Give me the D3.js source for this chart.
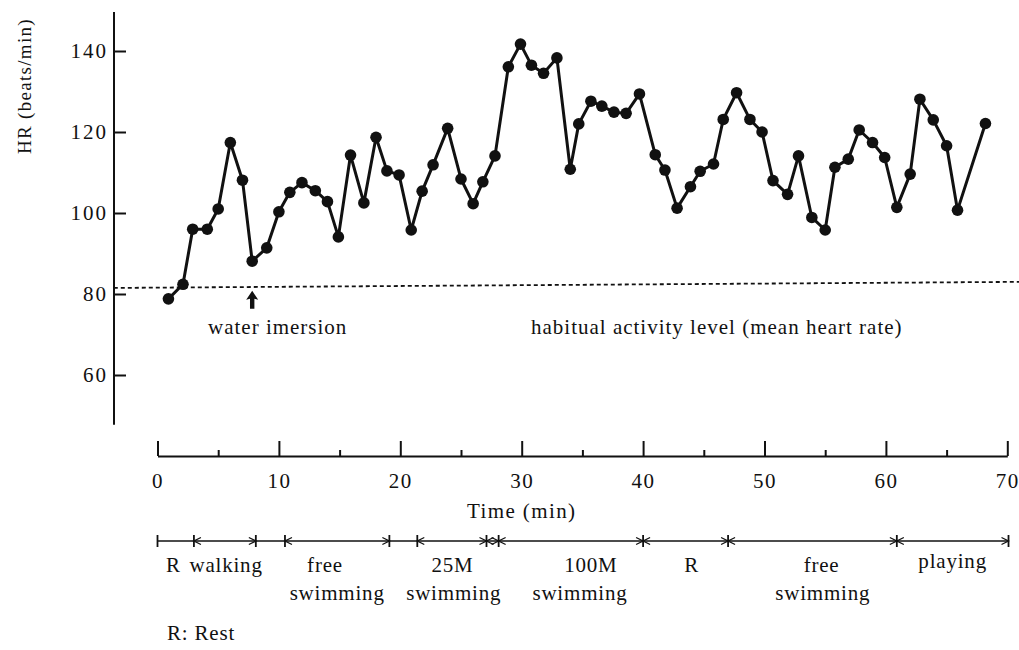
<!DOCTYPE html>
<html><head><meta charset="utf-8">
<script src="https://cdn.jsdelivr.net/npm/d3@7"></script>
<style>
body{margin:0;background:#fff;}
svg text{font-family:"Liberation Serif","Times New Roman",serif;fill:#111;}
</style></head>
<body>
<svg id="c" width="1019" height="650"></svg>
<script>
// ---- data ----
const time = [0.9,2.1,2.9,4.1,5.0,6.0,7.0,7.8,9.0,10.0,10.9,11.9,13.0,14.0,14.9,15.9,17.0,18.0,18.9,19.9,20.9,21.8,22.7,23.9,25.0,26.0,26.8,27.8,28.9,29.9,30.8,31.8,32.9,34.0,34.7,35.7,36.6,37.6,38.6,39.7,41.0,41.8,42.8,43.9,44.7,45.8,46.6,47.7,48.8,49.8,50.7,51.9,52.8,53.9,55.0,55.8,56.9,57.8,58.9,59.9,60.9,62.0,62.8,63.9,65.0,65.9,68.2];
const hr = [78.8,82.4,96.0,96.0,101.0,117.4,108.1,88.1,91.4,100.3,105.1,107.5,105.5,102.8,94.1,114.3,102.5,118.7,110.4,109.4,95.8,105.4,111.9,120.9,108.4,102.3,107.7,114.1,136.1,141.7,136.5,134.5,138.3,110.8,122.0,127.6,126.4,124.9,124.6,129.4,114.4,110.6,101.2,106.5,110.3,112.1,123.1,129.7,123.1,120.0,108.0,104.6,114.1,98.9,95.8,111.3,113.3,120.5,117.4,113.7,101.4,109.6,128.1,123.0,116.6,100.7,122.1];
const yTicks = [60,80,100,120,140];
const xMajorTicks = [0,10,20,30,40,50,60,70];
const xMinorTicks = [5,15,25,35,45,55,65];
const meanTime = [-3.6, 71];
const meanHR = [81.5, 83.0];
const waterTime = 7.8;
const phaseBounds = [0,3,8.1,10.5,19.1,21.4,27.1,28.1,40,47,60.9,70.1];
const arrowSegs = [[3,8.1],[10.5,19.1],[21.4,27.1],[27.1,28.1],[28.1,40],[40,47],[47,60.9],[60.9,70.1]];
const phaseLabels = [
  {t:1.3,line:1,text:"R"},{t:5.65,line:1,text:"walking"},
  {t:13.8,line:1,text:"free"},{t:14.8,line:2,text:"swimming"},
  {t:24.3,line:1,text:"25M"},{t:24.4,line:2,text:"swimming"},
  {t:35.7,line:1,text:"100M"},{t:34.8,line:2,text:"swimming"},
  {t:44.0,line:1,text:"R"},
  {t:54.7,line:1,text:"free"},{t:54.8,line:2,text:"swimming"},
  {t:65.5,line:0.8,text:"playing"}
];

// ---- chart ----
const svg = d3.select("#c");
const x = d3.scaleLinear().domain([0,70]).range([157.5,1007.3]);
const y = d3.scaleLinear().domain([60,140]).range([375,51]);
const axisX = 114;
const FS = 21;

// y axis
svg.append("line").attr("x1",axisX).attr("x2",axisX)
  .attr("y1",y(149.6)).attr("y2",y(47.7)).attr("stroke","#111").attr("stroke-width",2);
const gy = svg.append("g").attr("transform",`translate(${axisX},0)`)
  .call(d3.axisLeft(y).tickValues(yTicks).tickSizeInner(-12).tickSizeOuter(0).tickPadding(6));
gy.select(".domain").remove();
gy.selectAll(".tick line").attr("stroke","#111").attr("stroke-width",2);
gy.selectAll(".tick text").attr("font-size",FS).attr("letter-spacing","2px")
  .attr("font-family","Liberation Serif").attr("fill","#111");
svg.append("text").attr("transform","translate(31,86) rotate(-90)")
  .attr("text-anchor","middle").attr("font-size",19).attr("letter-spacing","1.3px")
  .text("HR  (beats/min)");

// x axis
const axY = 456;
const gxMinor = svg.append("g").attr("transform",`translate(0,${axY})`)
  .call(d3.axisBottom(x).tickValues(xMinorTicks).tickSizeInner(-6).tickSizeOuter(0).tickFormat(""));
gxMinor.select(".domain").attr("stroke","#111").attr("stroke-width",2);
gxMinor.selectAll(".tick line").attr("stroke","#111").attr("stroke-width",2);
const gx = svg.append("g").attr("transform",`translate(0,${axY})`)
  .call(d3.axisBottom(x).tickValues(xMajorTicks).tickSizeInner(-15).tickSizeOuter(0).tickPadding(17));
gx.select(".domain").remove();
gx.selectAll(".tick line").attr("stroke","#111").attr("stroke-width",2);
gx.selectAll(".tick text").attr("font-size",FS).attr("letter-spacing","1.5px")
  .attr("font-family","Liberation Serif").attr("fill","#111");
svg.append("text").attr("x",x(30)).attr("y",518).attr("text-anchor","middle")
  .attr("font-size",FS).attr("letter-spacing","1.4px").text("Time  (min)");

// mean HR dashed line
svg.append("path").datum(d3.zip(meanTime,meanHR))
  .attr("d",d3.line().x(d=>x(d[0])).y(d=>y(d[1])))
  .attr("fill","none").attr("stroke","#111").attr("stroke-width",1.8)
  .attr("stroke-dasharray","4,3");

// data line
const pts = d3.zip(time,hr);
svg.append("path").datum(pts)
  .attr("d",d3.line().x(d=>x(d[0])).y(d=>y(d[1])))
  .attr("fill","none").attr("stroke","#111").attr("stroke-width",3).attr("stroke-linejoin","round");
svg.selectAll("circle.pt").data(pts).join("circle").attr("class","pt")
  .attr("cx",d=>x(d[0])).attr("cy",d=>y(d[1])).attr("r",5.8).attr("fill","#111");

// water immersion arrow
const wx = x(waterTime), wy = y(80.8);
svg.append("path")
  .attr("d",`M${wx},${wy} L${wx+6},${wy+9} L${wx+2.2},${wy+8} L${wx+2.2},${wy+18} L${wx-2.2},${wy+18} L${wx-2.2},${wy+8} L${wx-6},${wy+9} Z`)
  .attr("fill","#111");
svg.append("text").attr("x",208).attr("y",334).attr("font-size",FS).attr("letter-spacing","1px")
  .text("water imersion");
svg.append("text").attr("x",531).attr("y",334).attr("font-size",FS).attr("letter-spacing","1px")
  .text("habitual activity level  (mean heart rate)");

// phase bar
const pY = 541;
svg.append("line").attr("x1",x(phaseBounds[0])).attr("x2",x(phaseBounds[phaseBounds.length-1]))
  .attr("y1",pY).attr("y2",pY).attr("stroke","#111").attr("stroke-width",1.5);
svg.selectAll("line.pb").data(phaseBounds).join("line").attr("class","pb")
  .attr("x1",d=>x(d)).attr("x2",d=>x(d)).attr("y1",pY-6).attr("y2",pY+6)
  .attr("stroke","#111").attr("stroke-width",1.8);
const heads = [];
arrowSegs.forEach(s=>{heads.push({t:s[0],dir:-1});heads.push({t:s[1],dir:1});});
svg.selectAll("path.ah").data(heads).join("path").attr("class","ah")
  .attr("d",d=>{const px=x(d.t); const bx=px-d.dir*7;
     return `M${bx},${pY-3.5} L${px},${pY} L${bx},${pY+3.5}`;})
  .attr("fill","none").attr("stroke","#111").attr("stroke-width",1.3);
svg.selectAll("text.pl").data(phaseLabels).join("text").attr("class","pl")
  .attr("x",d=>x(d.t)).attr("y",d=>d.line===2?600:(d.line===1?572:568))
  .attr("text-anchor","middle").attr("font-size",FS).attr("letter-spacing","0.8px")
  .text(d=>d.text);
svg.append("text").attr("x",167).attr("y",640).attr("font-size",FS).attr("letter-spacing","0.8px")
  .text("R: Rest");
</script>
</body></html>
